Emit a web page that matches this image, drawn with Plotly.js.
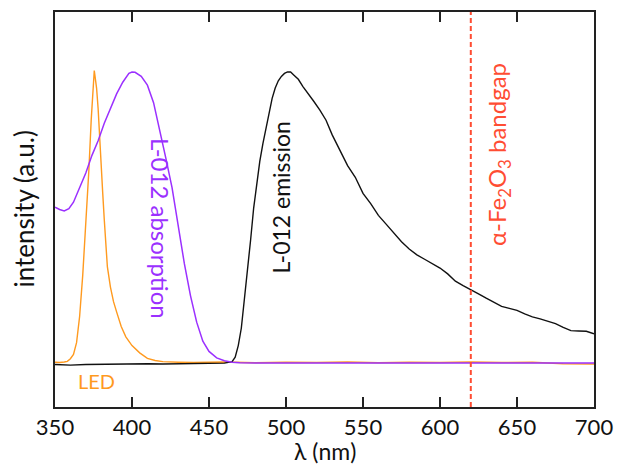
<!DOCTYPE html>
<html>
<head>
<meta charset="utf-8">
<script src="https://cdn.plot.ly/plotly-3.0.1.min.js"></script>
<style>html,body{margin:0;padding:0;background:#fff;}#chart{width:618px;height:466px;}</style>
</head>
<body>
<div id="chart"></div>
<script>
// LED spectrum
const ledX = [350,353,356,358,360,362,364,366,368,370,372,373.5,375,375.5,376,377,378,379,380,381,382,383,384,386,388,390,393,396,400,405,410,415,420,430,440,460,480,500,520,540,560,580,600,620,640,660,680,700];
const ledY = [0.003,0.002,0.004,0.006,0.015,0.03,0.07,0.16,0.30,0.47,0.66,0.83,0.97,1.0,0.98,0.94,0.87,0.76,0.67,0.58,0.49,0.40,0.33,0.26,0.21,0.175,0.125,0.09,0.06,0.035,0.016,0.009,0.005,0.003,0.002,0.004,0.001,0.003,0.002,0.004,0.001,0.003,0.002,0.004,0.002,0.003,-0.002,-0.003];

// L-012 absorption
const absX = [350,353,356,359,362,366,370,374,378,382,386,390,394,398,400,402,406,410,414,418,422,426,430,434,438,442,446,450,455,460,465,470,500,550,600,650,700];
const absY = [0.533,0.525,0.52,0.528,0.55,0.60,0.65,0.71,0.76,0.82,0.87,0.92,0.96,0.99,0.995,0.994,0.98,0.95,0.89,0.80,0.70,0.60,0.47,0.34,0.23,0.14,0.075,0.04,0.018,0.008,0.003,0.001,0,0,0,0,0];

// L-012 emission
const emX = [350,360,370,380,390,400,410,420,430,440,450,460,465,467,469,471,473,475,477,479,481,483,485,487,489,491,493,495,497,499,501,503,505,508,511,514,518,522,526,530,535,540,545,550,555,560,565,570,575,580,585,590,595,600,605,610,615,620,625,630,635,640,645,650,655,660,665,670,675,680,685,690,695,700];
const emY = [-0.005,-0.007,-0.005,-0.004,-0.003,-0.004,-0.002,-0.003,-0.002,-0.003,-0.001,0.0,0.005,0.02,0.06,0.12,0.22,0.31,0.42,0.53,0.62,0.69,0.75,0.80,0.855,0.905,0.94,0.965,0.98,0.99,0.995,0.995,0.985,0.97,0.945,0.925,0.895,0.865,0.83,0.78,0.725,0.675,0.635,0.58,0.545,0.505,0.475,0.445,0.415,0.39,0.37,0.355,0.34,0.325,0.305,0.28,0.265,0.252,0.237,0.222,0.208,0.194,0.187,0.18,0.168,0.158,0.151,0.143,0.135,0.122,0.111,0.11,0.109,0.10];

// bandgap marker
const bandgapX = 620;
const xTicks = [350,400,450,500,550,600,650,700];

const ORANGE = '#ff9a1f', PURPLE = '#9b30ff', RED = '#ff4d33';
const FONT = 'Lato, "Open Sans", sans-serif';

const traces = [
  {x: ledX, y: ledY, mode: 'lines', line: {color: ORANGE, width: 1.4}, hoverinfo: 'skip'},
  {x: emX, y: emY, mode: 'lines', line: {color: '#111', width: 1.4}, hoverinfo: 'skip'},
  {x: absX, y: absY, mode: 'lines', line: {color: PURPLE, width: 1.5}, hoverinfo: 'skip'}
];

const layout = {
  width: 618, height: 466,
  margin: {l: 55, r: 24, t: 12, b: 59},
  paper_bgcolor: '#fff', plot_bgcolor: '#fff',
  showlegend: false,
  font: {family: FONT, color: '#111'},
  xaxis: {
    range: [350, 700], tickvals: xTicks, ticktext: xTicks.map(String),
    ticks: 'inside', ticklen: 10, tickwidth: 1.5, tickcolor: '#222',
    showline: true, linecolor: '#222', linewidth: 2, mirror: 'ticks',
    showgrid: false, zeroline: false,
    tickfont: {family: FONT, size: 22, color: '#111'}
  },
  yaxis: {
    range: [-0.15, 1.2], showticklabels: false, ticks: '',
    showline: true, linecolor: '#222', linewidth: 2, mirror: true,
    showgrid: false, zeroline: false
  },
  shapes: [
    {type: 'line', xref: 'x', yref: 'paper', x0: bandgapX, x1: bandgapX, y0: 0, y1: 1,
     line: {color: RED, width: 2, dash: '5px,3px'}}
  ],
  annotations: [
    {text: 'λ (nm)', xref: 'paper', yref: 'paper', x: 0.5, y: 0, yanchor: 'middle', yshift: -44,
     showarrow: false, font: {family: FONT, size: 23, color: '#111'}},
    {text: 'intensity (a.u.)', xref: 'paper', yref: 'paper', x: 0, y: 0.5, xanchor: 'center', xshift: -32,
     textangle: -90, showarrow: false, font: {family: FONT, size: 26, color: '#111'}},
    {text: 'LED', x: 377, y: -0.06, showarrow: false, font: {family: FONT, size: 20, color: ORANGE}},
    {text: 'L-012 absorption', x: 418.5, y: 0.46, textangle: 90, showarrow: false,
     font: {family: FONT, size: 24, color: PURPLE}},
    {text: 'L-012 emission', x: 497, y: 0.567, textangle: -90, showarrow: false,
     font: {family: FONT, size: 23, color: '#111'}},
    {text: 'α-Fe<sub>2</sub>O<sub>3</sub> bandgap', x: 638, y: 0.713, textangle: -90, showarrow: false,
     font: {family: FONT, size: 24, color: RED}}
  ]
};

Plotly.newPlot('chart', traces, layout, {staticPlot: true, displayModeBar: false});
</script>
</body>
</html>
